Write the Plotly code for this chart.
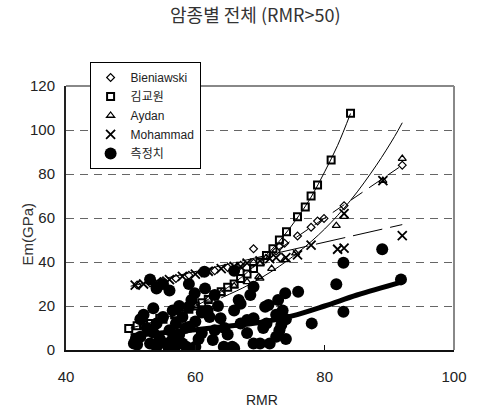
import plotly.graph_objects as go

# ---------------- data ----------------
bien_x = [51, 53, 55, 57, 59, 61, 63, 65, 67, 69, 69, 72.5, 73, 73.8, 75.8, 77.9, 78.9, 79.9, 83, 92]
bien_y = [29.5, 30.5, 31.5, 32.5, 34, 35, 36, 37.5, 38.5, 39.5, 46, 45, 47, 48.5, 51.8, 55.8, 58.6, 59.8, 65.6, 84]

kim_x = [49.7, 51, 52, 53, 54.5, 55, 56.8, 57, 58.1, 59, 60, 61, 62, 63, 64, 65, 66, 67, 68, 69, 70, 71,
         72, 73, 74.1, 75.8, 77, 77.9, 78.9, 81, 84]
kim_y = [9.8, 11, 11.5, 12, 14.4, 14, 16, 16.5, 18, 18.5, 20, 21.5, 23, 25, 26.5, 28.5, 30, 32.5, 34.5, 37,
         40, 43, 46, 50, 53.8, 60.6, 65, 70, 75, 86.4, 107.6]

aydan_x = [55, 58, 60, 62, 64, 66, 68, 69.8, 70, 71.8, 73.8, 75.5, 81.8, 83, 89, 92]
aydan_y = [14, 17, 20, 23, 26, 29, 31, 33.3, 32.6, 37, 41, 44, 56.5, 60.6, 77, 87]

moh_x = [50.7, 52, 54, 56, 58, 60, 62, 64, 66, 67, 68, 70, 71.5, 72.5, 74, 75.8, 77.9, 82, 83, 83, 89, 92]
moh_y = [29.5, 30, 31, 32, 33.5, 34.5, 35.8, 37, 38, 37.9, 39.5, 40.5, 41.5, 42, 42, 43.2, 47.7, 45.8, 46.3, 62, 77, 52]

meas_x = [50.5, 50.8, 51, 51.5, 51.5, 52, 52.5, 53, 53, 53.5, 53.5, 54, 54, 54, 54.5, 55, 55, 55.5, 55.8, 56,
          56, 56.5, 56.5, 57, 57, 57.5, 57.5, 58, 58, 58.5, 58.6, 59, 59, 59.1, 59.4, 59.9, 60, 60, 60.5, 61,
          61, 61.4, 61.5, 61.9, 62.2, 62.7, 63, 63, 63.5, 63.9, 64.4, 64.5, 65, 65.7, 66, 66, 66, 66.7, 67, 67,
          68, 68, 68.5, 69, 69, 69, 70, 70.5, 70.8, 71, 71.3, 71.5, 72.5, 72.5, 72.8, 73, 73.3, 73.5, 73.9, 74,
          74, 75.9, 78, 81.8, 82.9, 82.9, 88.9, 91.8]
meas_y = [3, 5, 2.5, 6, 14, 16, 10, 3, 32, 19, 8, 1.5, 12, 28, 5, 30, 15, 3, 1.5, 27,
          9, 18, 5, 12, 2, 20, 7, 15, 3, 10, 1.5, 19.7, 30, 10.6, 22.7, 25.8, 1.5, 13, 5, 7.7,
          17, 35.6, 28, 18, 15, 4.5, 9, 25, 20, 14.4, 1.5, 10, 7, 1.5, 36, 18, 0.8, 22.7, 21, 12,
          7.7, 13.6, 25, 28.8, 14.4, 3, 3, 10, 19.7, 12, 20.5, 3, 16, 6, 22.7, 9, 11.4, 18, 25.8, 14,
          5, 26.5, 12.1, 29.9, 39.7, 17.4, 45.8, 32.1]

# fitted lines
fit_kim_x = [50, 54, 58, 62, 66, 70, 73, 76, 78, 80, 82, 84]
fit_kim_y = [10, 13.2, 17.5, 23, 30.5, 40.5, 49.5, 61, 70, 81, 93, 107.5]

fit_exp_x = [64, 68, 72, 76, 80, 84, 88, 90.8, 92]
fit_exp_y = [23.7, 29.2, 36.1, 44.6, 55, 68, 84, 97, 103.3]

fit_moh_x = [50, 92]
fit_moh_y = [29, 57]

fit_bien_x = [70, 92]
fit_bien_y = [40, 84]

fit_meas_x = [50, 55, 60, 65, 70, 75, 80, 85, 92]
fit_meas_y = [6.5, 7.8, 9.2, 10.8, 12.5, 15.5, 20, 25, 31]

x_ticks = [40, 60, 80, 100]
y_ticks = [0, 20, 40, 60, 80, 100, 120]

SANS = "Liberation Sans, Arial, Noto Sans CJK KR, sans-serif"

fig = go.Figure()

# fit lines (no legend)
fig.add_trace(go.Scatter(x=fit_meas_x, y=fit_meas_y, mode="lines", line=dict(color="black", width=5, shape="spline"),
                         showlegend=False, hoverinfo="skip"))
fig.add_trace(go.Scatter(x=fit_kim_x, y=fit_kim_y, mode="lines", line=dict(color="black", width=1, shape="spline"),
                         showlegend=False, hoverinfo="skip"))
fig.add_trace(go.Scatter(x=fit_exp_x, y=fit_exp_y, mode="lines", line=dict(color="black", width=1, shape="spline"),
                         showlegend=False, hoverinfo="skip"))
fig.add_trace(go.Scatter(x=fit_moh_x, y=fit_moh_y, mode="lines", line=dict(color="black", width=1, dash="30px,8px"),
                         showlegend=False, hoverinfo="skip"))
fig.add_trace(go.Scatter(x=fit_bien_x, y=fit_bien_y, mode="lines", line=dict(color="black", width=1, dash="14px,8px"),
                         showlegend=False, hoverinfo="skip"))

# markers
fig.add_trace(go.Scatter(x=bien_x, y=bien_y, mode="markers", name="Bieniawski",
                         marker=dict(symbol="diamond-open", size=6, color="black", line=dict(width=1.2))))
fig.add_trace(go.Scatter(x=kim_x, y=kim_y, mode="markers", name="김교원",
                         marker=dict(symbol="square-open", size=7, color="black", line=dict(width=2))))
fig.add_trace(go.Scatter(x=aydan_x, y=aydan_y, mode="markers", name="Aydan",
                         marker=dict(symbol="triangle-up-open", size=7, color="black", line=dict(width=1.3))))
fig.add_trace(go.Scatter(x=moh_x, y=moh_y, mode="markers", name="Mohammad",
                         marker=dict(symbol="x-thin-open", size=9, color="black", line=dict(width=1.8, color="black"))))
fig.add_trace(go.Scatter(x=meas_x, y=meas_y, mode="markers", name="측정치",
                         marker=dict(symbol="circle", size=12, color="black", line=dict(width=0))))

# top / right frame in grey
fig.add_shape(type="line", xref="paper", yref="paper", x0=0, x1=1, y0=1, y1=1, line=dict(color="#888", width=2))
fig.add_shape(type="line", xref="paper", yref="paper", x0=1, x1=1, y0=0, y1=1, line=dict(color="#888", width=2))

fig.add_annotation(text="Em(GPa)", xref="paper", yref="paper", x=-0.099, y=0.44, xanchor="center", yanchor="middle",
                   textangle=-90, showarrow=False, font=dict(family=SANS, size=15, color="#333"))
fig.add_annotation(text="RMR", xref="paper", yref="paper", x=0.505, y=-0.19, xanchor="center", yanchor="middle",
                   showarrow=False, font=dict(family=SANS, size=14, color="#222"))

fig.update_layout(
    width=479, height=410,
    margin=dict(l=66, r=18, t=86, b=60),
    paper_bgcolor="white", plot_bgcolor="white",
    title=dict(text="암종별 전체 (RMR>50)", x=0.533, xanchor="center", y=0.962, yanchor="middle",
               font=dict(family="Noto Sans CJK KR, sans-serif", size=18, color="#333")),
    font=dict(family=SANS, size=13, color="#222"),
    showlegend=True,
    legend=dict(x=0.0608, y=1.091, xanchor="left", yanchor="top", bordercolor="black", borderwidth=1,
                bgcolor="white", font=dict(family=SANS, size=12, color="#222"), tracegroupgap=0,
                entrywidth=90, itemwidth=30),
    xaxis=dict(range=[40, 100], tickvals=x_ticks, showgrid=False, zeroline=False,
               showline=True, linecolor="#111", linewidth=2, ticks="inside", ticklen=5, tickcolor="#111",
               ticklabelstandoff=12, tickfont=dict(family=SANS, size=15, color="#222")),
    yaxis=dict(range=[0, 120], tickvals=y_ticks, showgrid=True, gridcolor="#666", gridwidth=1, griddash="8px,6px",
               zeroline=False, showline=True, linecolor="#222", linewidth=2, ticks="", ticklabelstandoff=6,
               tickfont=dict(family=SANS, size=15, color="#222")),
)

fig.write_html("out.html")
